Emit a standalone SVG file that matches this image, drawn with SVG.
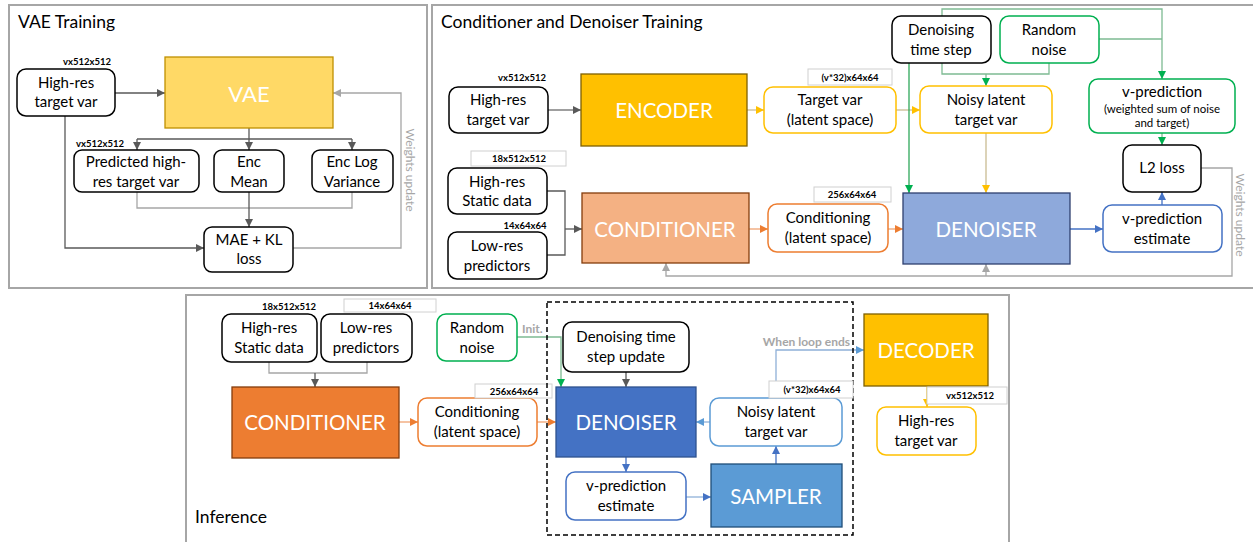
<svg xmlns="http://www.w3.org/2000/svg" width="1253" height="542" viewBox="0 0 1253 542">
<style>
  text { font-family: Lato, "Open Sans", "Liberation Sans", sans-serif; fill: #000; }
  .t { font-size: 15px; text-anchor: middle; }
  .title { font-size: 17.5px; }
  .big { font-size: 20.5px; fill: #fff; text-anchor: middle; dominant-baseline: central; }
  .lbl { font-size: 9.5px; font-weight: bold; text-anchor: middle; }
  .gtxt { font-size: 12px; font-weight: bold; fill: #A6A6A6; }
  .wu { font-size: 12px; fill: #A6A6A6; text-anchor: middle; dominant-baseline: central; }
  .frame { fill: #fff; stroke: #A6A6A6; stroke-width: 2; }
  .bk { fill: #fff; stroke: #000; stroke-width: 1.5; }
  .yl { fill: #fff; stroke: #FFC000; stroke-width: 1.5; }
  .gr { fill: #fff; stroke: #00B050; stroke-width: 1.5; }
  .bl { fill: #fff; stroke: #4472C4; stroke-width: 1.5; }
  .lb { fill: #fff; stroke: #5B9BD5; stroke-width: 1.5; }
  .or { fill: #fff; stroke: #ED7D31; stroke-width: 1.5; }
  .lblbox { fill: #fff; stroke: #D0D0D0; stroke-width: 1; }
  .c { fill: none; stroke-width: 1.3; }
  .cd { stroke: #595959; }
  .cg { stroke: #A6A6A6; }
  .cgr { stroke: #7DBA92; }
  .cgr2 { stroke: #2EA85A; }
  .cy { stroke: #C9BC92; }
  .co { stroke: #F0A272; }
  .cb { stroke: #4472C4; }
  .clb { stroke: #8FB0D8; }
</style>
<defs>
  <marker id="aDark" markerUnits="userSpaceOnUse" markerWidth="9" markerHeight="9" refX="8" refY="4" orient="auto"><path d="M0,0 L8,4 L0,8 z" fill="#595959"/></marker>
  <marker id="aGray" markerUnits="userSpaceOnUse" markerWidth="9" markerHeight="9" refX="8" refY="4" orient="auto"><path d="M0,0 L8,4 L0,8 z" fill="#A6A6A6"/></marker>
  <marker id="aGreen" markerUnits="userSpaceOnUse" markerWidth="9" markerHeight="9" refX="8" refY="4" orient="auto"><path d="M0,0 L8,4 L0,8 z" fill="#00B050"/></marker>
  <marker id="aYellow" markerUnits="userSpaceOnUse" markerWidth="9" markerHeight="9" refX="8" refY="4" orient="auto"><path d="M0,0 L8,4 L0,8 z" fill="#FFC000"/></marker>
  <marker id="aOrange" markerUnits="userSpaceOnUse" markerWidth="9" markerHeight="9" refX="8" refY="4" orient="auto"><path d="M0,0 L8,4 L0,8 z" fill="#ED7D31"/></marker>
  <marker id="aBlue" markerUnits="userSpaceOnUse" markerWidth="9" markerHeight="9" refX="8" refY="4" orient="auto"><path d="M0,0 L8,4 L0,8 z" fill="#4472C4"/></marker>
  <marker id="aLBlue" markerUnits="userSpaceOnUse" markerWidth="9" markerHeight="9" refX="8" refY="4" orient="auto"><path d="M0,0 L8,4 L0,8 z" fill="#5B9BD5"/></marker>
</defs>

<!-- Panels -->
<g id="panel-vae">
  <rect class="frame" x="9" y="5" width="418" height="283"/>
  <text class="title" x="18" y="28">VAE Training</text>
</g>
<g id="panel-cond">
  <rect class="frame" x="432" y="5" width="830" height="283"/>
  <text class="title" x="441" y="28">Conditioner and Denoiser Training</text>
</g>
<g id="panel-inf">
  <rect class="frame" x="186" y="295" width="823" height="260"/>
  <text class="title" x="195" y="523">Inference</text>
</g>

<!-- Connectors -->
<g id="connectors">
  <!-- VAE training -->
  <path class="c cd" d="M115,93 H165" marker-end="url(#aDark)"/>
  <path class="c cd" d="M249,128 V139 M137,139 H352"/>
  <path class="c cd" d="M137,139 V150" marker-end="url(#aDark)"/>
  <path class="c cd" d="M249,139 V150" marker-end="url(#aDark)"/>
  <path class="c cd" d="M352,139 V150" marker-end="url(#aDark)"/>
  <path class="c cg" d="M137,192 V208 H352 V192"/>
  <path class="c cd" d="M249,192 V227" marker-end="url(#aDark)"/>
  <path class="c cd" d="M65,116 V248 H204" marker-end="url(#aDark)"/>
  <path class="c cg" d="M293,248 H401 V93 H333" marker-end="url(#aGray)"/>

  <!-- Conditioner and denoiser training -->
  <path class="c" stroke="#7F7F7F" d="M548,110 H581" marker-end="url(#aDark)"/>
  <path class="c cy" d="M747,110 H764" marker-end="url(#aYellow)"/>
  <path class="c cy" d="M896,110 H920" marker-end="url(#aYellow)"/>
  <path class="c cgr" d="M942,63 V74 H1049 V63"/>
  <path class="c cgr" d="M986,74 V86" marker-end="url(#aGreen)"/>
  <path class="c cgr" d="M942,16 V9 H1162 V79" marker-end="url(#aGreen)"/>
  <path class="c cgr" d="M1099,39 H1162"/>
  <path class="c cgr2" d="M909,63 V193" marker-end="url(#aGreen)"/>
  <path class="c cy" d="M986,133 V193" marker-end="url(#aYellow)"/>
  <path class="c cgr" d="M1162,133 V145" marker-end="url(#aGreen)"/>
  <path class="c cb" d="M1162,205 V192" marker-end="url(#aBlue)"/>
  <path class="c cb" d="M1070,229 H1103" marker-end="url(#aBlue)"/>
  <path class="c cg" d="M1201,168 H1232 V276 H666 V263" marker-end="url(#aGray)"/>
  <path class="c cg" d="M986,276 V264" marker-end="url(#aGray)"/>
  <path class="c cd" d="M547,191 H565 V255 H547"/>
  <path class="c cd" d="M565,229 H582" marker-end="url(#aDark)"/>
  <path class="c co" d="M749,229 H768" marker-end="url(#aOrange)"/>
  <path class="c co" d="M888,229 H903" marker-end="url(#aOrange)"/>

  <!-- Inference -->
  <path class="c cg" d="M269,362 V373 H367 V362"/>
  <path class="c cd" d="M315,373 V387" marker-end="url(#aDark)"/>
  <path class="c cgr" d="M517,337 H561 V387" marker-end="url(#aGreen)"/>
  <path class="c co" d="M399,422 H418" marker-end="url(#aOrange)"/>
  <path class="c co" d="M537,422 H556" marker-end="url(#aOrange)"/>
  <path class="c cd" d="M626,372 V387" marker-end="url(#aDark)"/>
  <path class="c cb" d="M626,457 V472" marker-end="url(#aBlue)"/>
  <path class="c clb" d="M686,497 H711" marker-end="url(#aBlue)"/>
  <path class="c cb" d="M776,464 V446" marker-end="url(#aBlue)"/>
  <path class="c clb" d="M710,422 H696" marker-end="url(#aLBlue)"/>
  <path class="c clb" d="M776,398 V350 H864" marker-end="url(#aLBlue)"/>
  <path class="c" stroke="#FFC000" d="M927,386 V407" marker-end="url(#aYellow)"/>
</g>

<!-- VAE training nodes -->
<g id="vae-hr-target">
  <rect class="bk" x="17" y="69" width="98" height="47" rx="9"/>
  <text class="t" x="66" y="88">High-res</text>
  <text class="t" x="66" y="107">target var</text>
  <text class="lbl" x="87" y="65">vx512x512</text>
</g>
<g id="vae-box">
  <rect x="165" y="57" width="168" height="71" fill="#FFD966" stroke="#BF9000" stroke-width="1.3"/>
  <text class="big" x="249" y="93" style="font-size:22px">VAE</text>
</g>
<g id="vae-pred">
  <rect class="bk" x="74" y="150" width="125" height="42" rx="8"/>
  <text class="t" x="136" y="167">Predicted high-</text>
  <text class="t" x="136" y="187">res target var</text>
  <text class="lbl" x="100" y="147">vx512x512</text>
</g>
<g id="vae-mean">
  <rect class="bk" x="214" y="150" width="70" height="42" rx="8"/>
  <text class="t" x="249" y="167">Enc</text>
  <text class="t" x="249" y="187">Mean</text>
</g>
<g id="vae-logvar">
  <rect class="bk" x="312" y="150" width="81" height="42" rx="8"/>
  <text class="t" x="352" y="167">Enc Log</text>
  <text class="t" x="352" y="187">Variance</text>
</g>
<g id="vae-loss">
  <rect class="bk" x="204" y="227" width="89" height="45" rx="8"/>
  <text class="t" x="249" y="245">MAE + KL</text>
  <text class="t" x="249" y="264">loss</text>
</g>
<g id="vae-weights-label">
  <text class="wu" transform="translate(410,170) rotate(90)">Weights update</text>
</g>

<!-- Conditioner and denoiser training nodes -->
<g id="cd-hr-target">
  <rect class="bk" x="449" y="87" width="99" height="46" rx="9"/>
  <text class="t" x="498" y="105">High-res</text>
  <text class="t" x="498" y="125">target var</text>
  <text class="lbl" x="522" y="81">vx512x512</text>
</g>
<g id="cd-encoder">
  <rect x="581" y="74" width="166" height="72" fill="#FFC000" stroke="#7F6000" stroke-width="1.3"/>
  <text class="big" x="664" y="110">ENCODER</text>
</g>
<g id="cd-target-latent">
  <rect class="yl" x="764" y="87" width="132" height="46" rx="9"/>
  <text class="t" x="830" y="105">Target var</text>
  <text class="t" x="830" y="125">(latent space)</text>
  <rect class="lblbox" x="808" y="69" width="84" height="16"/>
  <text class="lbl" x="850" y="81">(v*32)x64x64</text>
</g>
<g id="cd-noisy">
  <rect class="yl" x="920" y="86" width="132" height="47" rx="9"/>
  <text class="t" x="986" y="105">Noisy latent</text>
  <text class="t" x="986" y="125">target var</text>
</g>
<g id="cd-timestep">
  <rect class="bk" x="892" y="16" width="99" height="47" rx="9"/>
  <text class="t" x="941" y="35">Denoising</text>
  <text class="t" x="941" y="55">time step</text>
</g>
<g id="cd-noise">
  <rect class="gr" x="1000" y="16" width="99" height="47" rx="9"/>
  <text class="t" x="1049" y="35">Random</text>
  <text class="t" x="1049" y="55">noise</text>
</g>
<g id="cd-vpred">
  <rect class="gr" x="1089" y="79" width="146" height="54" rx="9"/>
  <text class="t" x="1162" y="97">v-prediction</text>
  <text class="t" x="1162" y="113" style="font-size:11.5px">(weighted sum of noise</text>
  <text class="t" x="1162" y="127" style="font-size:11.5px">and target)</text>
</g>
<g id="cd-l2">
  <rect class="bk" x="1123" y="145" width="78" height="47" rx="9"/>
  <text class="t" x="1162" y="173">L2 loss</text>
</g>
<g id="cd-vest">
  <rect class="bl" x="1103" y="205" width="119" height="47" rx="9"/>
  <text class="t" x="1162" y="224">v-prediction</text>
  <text class="t" x="1162" y="244">estimate</text>
</g>
<g id="cd-denoiser">
  <rect x="903" y="193" width="167" height="71" fill="#8EA9DB" stroke="#2F3F6F" stroke-width="1.3"/>
  <text class="big" x="986" y="229">DENOISER</text>
</g>
<g id="cd-static">
  <rect class="bk" x="448" y="168" width="99" height="46" rx="9"/>
  <text class="t" x="497" y="187">High-res</text>
  <text class="t" x="497" y="206">Static data</text>
  <rect class="lblbox" x="471" y="151" width="95" height="15"/>
  <text class="lbl" x="519" y="162">18x512x512</text>
</g>
<g id="cd-lowres">
  <rect class="bk" x="448" y="232" width="99" height="47" rx="9"/>
  <text class="t" x="497" y="251">Low-res</text>
  <text class="t" x="497" y="271">predictors</text>
  <text class="lbl" x="525" y="229">14x64x64</text>
</g>
<g id="cd-conditioner">
  <rect x="582" y="193" width="167" height="70" fill="#F4B183" stroke="#843C0C" stroke-width="1.3"/>
  <text class="big" x="665" y="229">CONDITIONER</text>
</g>
<g id="cd-conditioning">
  <rect class="or" x="768" y="204" width="120" height="48" rx="9"/>
  <text class="t" x="828" y="223">Conditioning</text>
  <text class="t" x="828" y="243">(latent space)</text>
  <rect class="lblbox" x="814" y="187" width="77" height="15"/>
  <text class="lbl" x="852" y="198">256x64x64</text>
</g>
<g id="cd-weights-label">
  <text class="wu" transform="translate(1240,215) rotate(90)">Weights update</text>
</g>

<!-- Inference nodes -->
<g id="inf-static">
  <rect class="bk" x="222" y="314" width="95" height="48" rx="9"/>
  <text class="t" x="269" y="333">High-res</text>
  <text class="t" x="269" y="353">Static data</text>
  <text class="lbl" x="289" y="310">18x512x512</text>
</g>
<g id="inf-lowres">
  <rect class="bk" x="321" y="314" width="91" height="48" rx="9"/>
  <text class="t" x="366" y="333">Low-res</text>
  <text class="t" x="366" y="353">predictors</text>
  <rect class="lblbox" x="344" y="299" width="92" height="13"/>
  <text class="lbl" x="390" y="309">14x64x64</text>
</g>
<g id="inf-conditioner">
  <rect x="232" y="387" width="167" height="71" fill="#ED7D31" stroke="#843C0C" stroke-width="1.3"/>
  <text class="big" x="315" y="422">CONDITIONER</text>
</g>
<g id="inf-noise">
  <rect class="gr" x="437" y="314" width="80" height="47" rx="9"/>
  <text class="t" x="477" y="333">Random</text>
  <text class="t" x="477" y="353">noise</text>
  <text class="gtxt" x="522" y="333">Init.</text>
</g>
<g id="inf-conditioning">
  <rect class="or" x="418" y="398" width="119" height="48" rx="9"/>
  <text class="t" x="477" y="417">Conditioning</text>
  <text class="t" x="477" y="437">(latent space)</text>
  <rect class="lblbox" x="475" y="384" width="77" height="14"/>
  <text class="lbl" x="514" y="395">256x64x64</text>
</g>
<g id="inf-loop">
  <rect x="547" y="302" width="306" height="233" fill="none" stroke="#000" stroke-width="1.5" stroke-dasharray="5,3"/>
</g>
<g id="inf-timestep">
  <rect class="bk" x="563" y="322" width="126" height="50" rx="9"/>
  <text class="t" x="626" y="342">Denoising time</text>
  <text class="t" x="626" y="362">step update</text>
</g>
<g id="inf-denoiser">
  <rect x="556" y="387" width="140" height="70" fill="#4472C4" stroke="#2F528F" stroke-width="1.3"/>
  <text class="big" x="626" y="422">DENOISER</text>
</g>
<g id="inf-vest">
  <rect class="bl" x="566" y="472" width="120" height="48" rx="9"/>
  <text class="t" x="626" y="491">v-prediction</text>
  <text class="t" x="626" y="511">estimate</text>
</g>
<g id="inf-sampler">
  <rect x="711" y="464" width="131" height="63" fill="#5B9BD5" stroke="#1F4E79" stroke-width="1.3"/>
  <text class="big" x="776" y="496">SAMPLER</text>
</g>
<g id="inf-noisy">
  <rect class="lb" x="710" y="398" width="132" height="48" rx="9"/>
  <text class="t" x="776" y="417">Noisy latent</text>
  <text class="t" x="776" y="437">target var</text>
  <rect class="lblbox" x="769" y="381" width="84" height="17"/>
  <text class="lbl" x="812" y="393">(v*32)x64x64</text>
</g>
<g id="inf-loop-label">
  <text class="gtxt" x="850" y="346" text-anchor="end">When loop ends</text>
</g>
<g id="inf-decoder">
  <rect x="864" y="314" width="124" height="72" fill="#FFC000" stroke="#7F6000" stroke-width="1.3"/>
  <text class="big" x="926" y="350">DECODER</text>
</g>
<g id="inf-hr-target">
  <rect class="yl" x="877" y="407" width="99" height="48" rx="9"/>
  <text class="t" x="926" y="426">High-res</text>
  <text class="t" x="926" y="446">target var</text>
  <rect class="lblbox" x="927" y="387" width="80" height="17"/>
  <text class="lbl" x="970" y="399">vx512x512</text>
</g>
</svg>
